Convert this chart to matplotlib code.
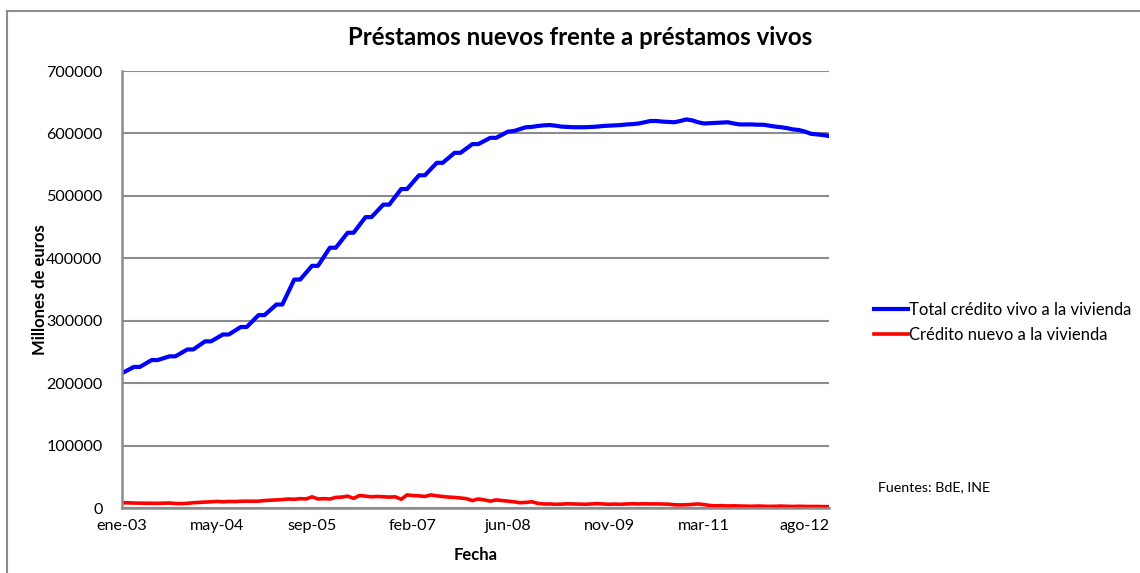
import numpy as np
import matplotlib.pyplot as plt
from matplotlib.patches import Rectangle

# monthly data, ene-03 .. dic-12 (millones de euros)
total_vivo = [
    216000, 221000, 226000, 226000, 231500, 237000, 237000, 240000, 243000, 243000,
    248500, 254000, 254000, 260500, 267000, 267000, 272500, 278000, 278000, 284000,
    290000, 290000, 299500, 309000, 309000, 317500, 326000, 326000, 346000, 366000,
    366000, 377000, 388000, 388000, 402500, 417000, 417000, 429000, 441000, 441000,
    453500, 466000, 466000, 476000, 486000, 486000, 498500, 511000, 511000, 522000,
    533000, 533000, 543000, 553000, 553000, 561000, 569000, 569000, 576000, 583000,
    583000, 588000, 593000, 593000, 598000, 603000, 604000, 607000, 610000, 610500,
    612000, 613000, 613500, 612500, 611000, 610500, 610000, 610000, 610000, 610500,
    611000, 612000, 612500, 613000, 613500, 614500, 615000, 616000, 618000, 620000,
    620000, 619000, 618500, 618000, 620000, 622500, 621000, 618000, 616000, 616500,
    617000, 617500, 618000, 616000, 614500, 614500, 614500, 614000, 614000, 612500,
    611000, 610000, 608500, 606500, 605500, 603000, 599500, 598500, 597500, 596000,
]
credito_nuevo = [
    8500, 8300, 8000, 7800, 7700, 7600, 7500, 7800, 8000, 7200,
    7000, 7500, 8500, 9000, 9500, 10000, 10500, 10000, 10500, 10300,
    10800, 11000, 10800, 11000, 12000, 12500, 13000, 13500, 14500, 14000,
    15000, 14500, 18000, 14500, 15000, 14500, 17000, 17500, 19000, 15500,
    20000, 19000, 18000, 18500, 18000, 17500, 18000, 14000, 21000, 20000,
    19500, 18500, 21000, 19500, 18500, 17500, 17000, 16000, 15000, 12000,
    14500, 13000, 11000, 13000, 12000, 11000, 10000, 8500, 9000, 10000,
    7500, 6500, 6500, 6000, 6200, 6800, 6500, 6300, 6000, 6500,
    7000, 6500, 6000, 6300, 6000, 6500, 6800, 6500, 6800, 6500,
    6600, 6400, 6200, 5200, 5000, 5200, 5800, 6500, 5500, 4000,
    3500, 3800, 3300, 3500, 3200, 3000, 2800, 3200, 2900, 2600,
    2800, 3100, 2700, 2500, 2800, 2600, 2400, 2500, 2300, 2200,
]
meses = ['ene', 'feb', 'mar', 'abr', 'may', 'jun', 'jul', 'ago', 'sep', 'oct', 'nov', 'dic']
fechas = ['%s-%02d' % (meses[i % 12], 3 + i // 12) for i in range(len(total_vivo))]
etiquetas = ['ene-03', 'may-04', 'sep-05', 'feb-07', 'jun-08', 'nov-09', 'mar-11', 'ago-12']

plt.rcParams['font.family'] = ['Lato', 'DejaVu Sans']

fig = plt.figure(figsize=(11.4, 5.73), dpi=100)
ax = fig.add_axes([0.107, 0.1134, 0.620, 0.7626])

x = np.arange(len(total_vivo))
ax.plot(x, total_vivo, color='#0000ff', lw=3.0, label='Total crédito vivo a la vivienda')
ax.plot(x, credito_nuevo, color='#ff0000', lw=2.6, label='Crédito nuevo a la vivienda')

ax.set_xlim(0, len(x) - 1)
ax.set_ylim(0, 700000)
ax.set_yticks(np.arange(0, 700001, 100000))
ax.set_yticklabels([str(v) for v in range(0, 700001, 100000)])
ax.set_xticks([fechas.index(e) for e in etiquetas])
ax.set_xticklabels(etiquetas)
ax.tick_params(length=0, labelsize=11.6, colors='black')
ax.tick_params(axis='y', pad=14)
ax.tick_params(axis='x', pad=8)

ax.grid(axis='y', color='#8c8c8c', lw=1.5)
ax.set_axisbelow(True)
for s in ['top', 'right']:
    ax.spines[s].set_visible(False)
for s in ['left', 'bottom']:
    ax.spines[s].set_color('#8c8c8c')
    ax.spines[s].set_linewidth(1.8)

ax.set_xlabel('Fecha', fontsize=12, fontweight='bold', labelpad=10)
ax.set_ylabel('Millones de euros', fontsize=12, fontweight='bold', labelpad=-1)

fig.text(0.509, 0.934, 'Préstamos nuevos frente a préstamos vivos', ha='center', va='center',
         fontsize=17.3, fontweight='bold')

leg = ax.legend(loc='center left', bbox_to_anchor=(1.055, 0.425), frameon=False, fontsize=12,
                handlelength=2.0, handletextpad=0.1, labelspacing=0.55, borderaxespad=0)

fig.text(0.770, 0.150, 'Fuentes: BdE, INE', fontsize=10.3, va='center')

fig.patches.append(Rectangle((7 / 1140, -0.1), 1.2, 1 - 11 / 573 + 0.1, transform=fig.transFigure,
                             fill=False, edgecolor='#8c8c8c', lw=1.5))

fig.savefig('out.png', dpi=100)
